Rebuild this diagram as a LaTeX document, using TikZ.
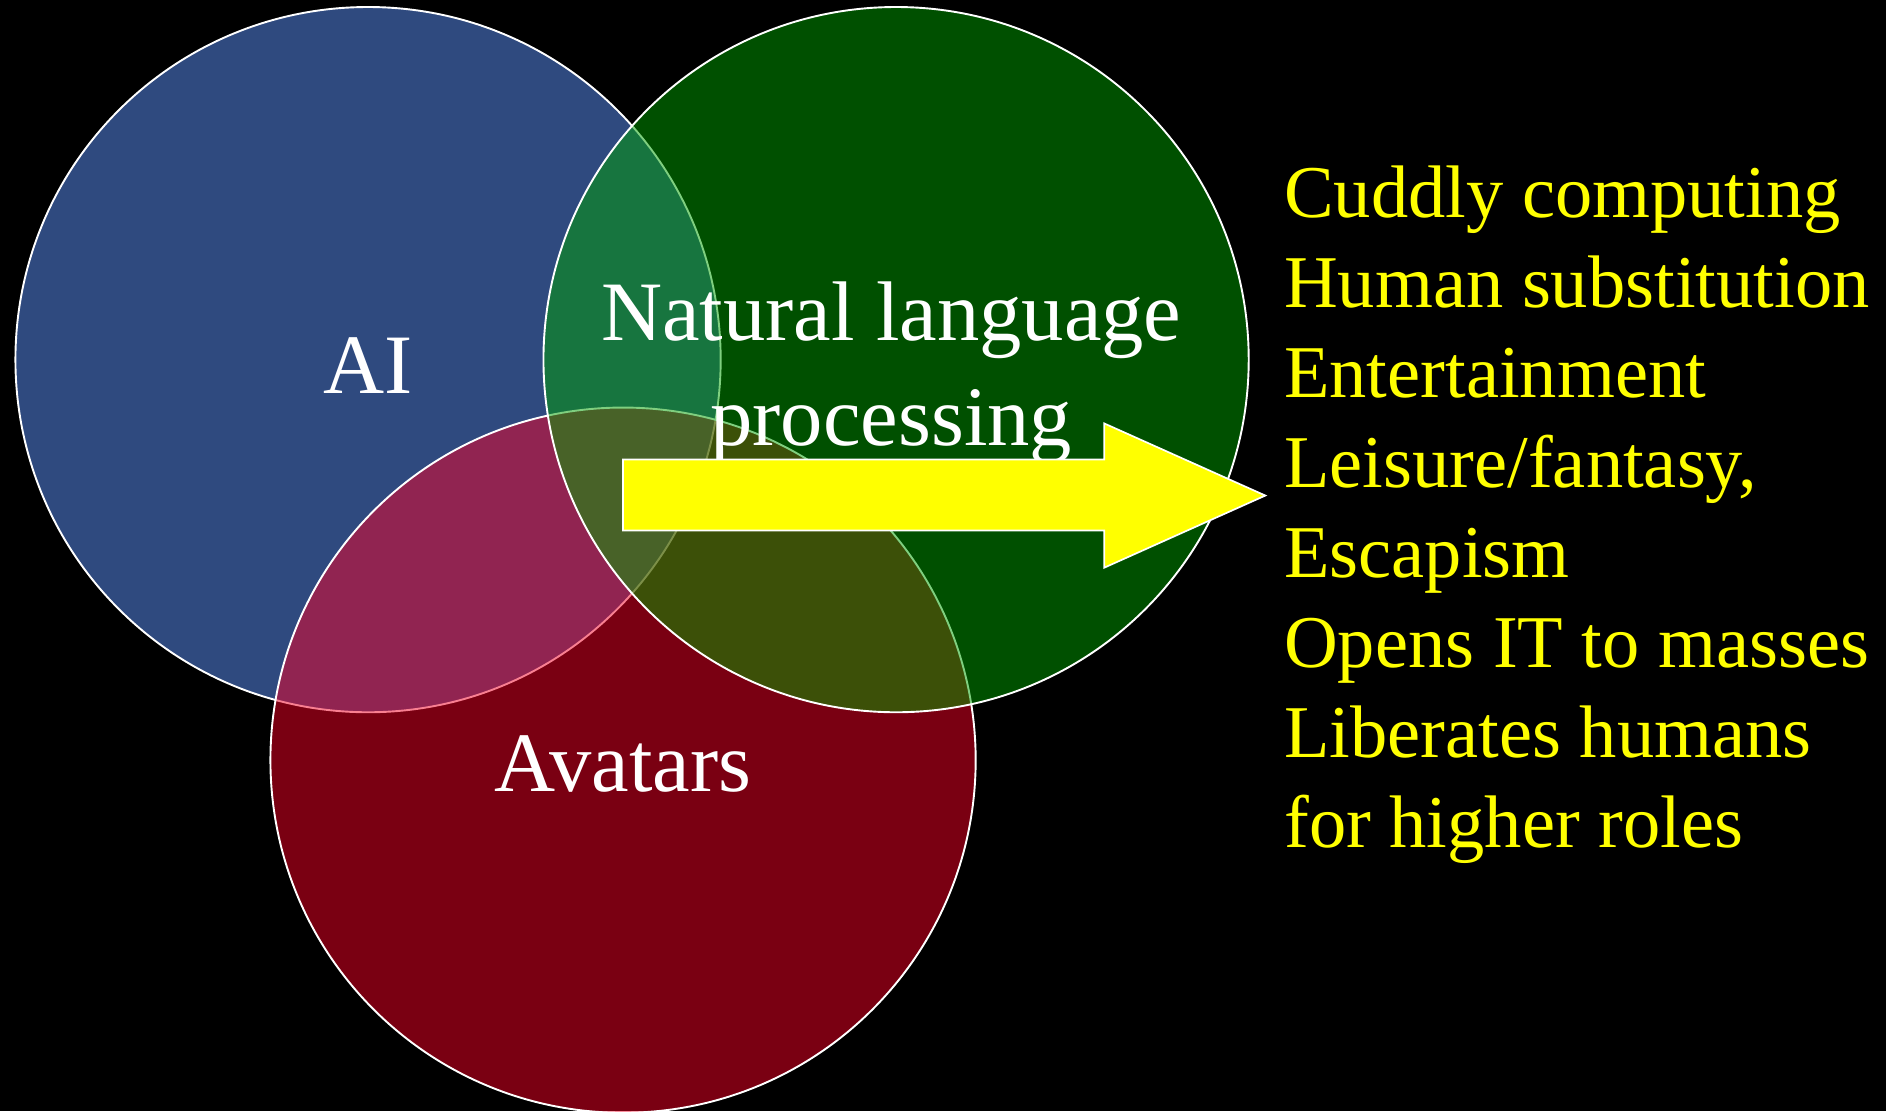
\documentclass[tikz,border=0pt]{standalone}
\usepackage{fontspec}
\setmainfont{Liberation Serif}
\usetikzlibrary{positioning}

\definecolor{aiblue}{RGB}{47,74,127}
\definecolor{nlpgreen}{RGB}{0,160,0}
\definecolor{avatarred}{RGB}{244,0,36}
\definecolor{listyellow}{RGB}{255,255,0}

\begin{document}
\begin{tikzpicture}[x=0.01cm, y=-0.01cm,
venn_circle/.style={circle, draw=white, line width=0.45pt, inner sep=0pt, minimum size=5.86cm},
white_label/.style={text=white, anchor=base, inner sep=0pt, font=\fontsize{20pt}{24.7pt}\selectfont},
yellow_list/.style={text=listyellow, anchor=base west, inner sep=0pt, align=left, font=\fontsize{17.6pt}{21.3pt}\selectfont},
big_arrow/.style={fill=listyellow, draw=white, line width=0.4pt}
]

\fill[black] (0,0) rectangle (1568,924);
\useasboundingbox (0,0) rectangle (1568,924);

% the three sets
\node[venn_circle, fill=aiblue](ai) at (306,299) {};
\node[venn_circle, fill=avatarred, fill opacity=0.5](avatars) at (518,632) {};
\node[venn_circle, fill=nlpgreen, fill opacity=0.5](nlp) at (745,299) {};

\node[white_label](ai_text) at (306,327) {AI};
\node[white_label, align=center](nlp_text) at (741,370) {Natural language\\processing};
\node[white_label](avatars_text) at (518,658) {Avatars};

% arrow to the list
\draw[big_arrow] (518,382) -- (918,382) -- (918,352) -- (1052,412) -- (918,472) -- (918,441) -- (518,441) -- cycle;

% base anchor sits on the last line
\node[yellow_list](benefits) at (1067,705) {Cuddly computing\\Human substitution\\Entertainment\\Leisure/fantasy,\\Escapism\\Opens IT to masses\\Liberates humans\\for higher roles};
\end{tikzpicture}
\end{document}
